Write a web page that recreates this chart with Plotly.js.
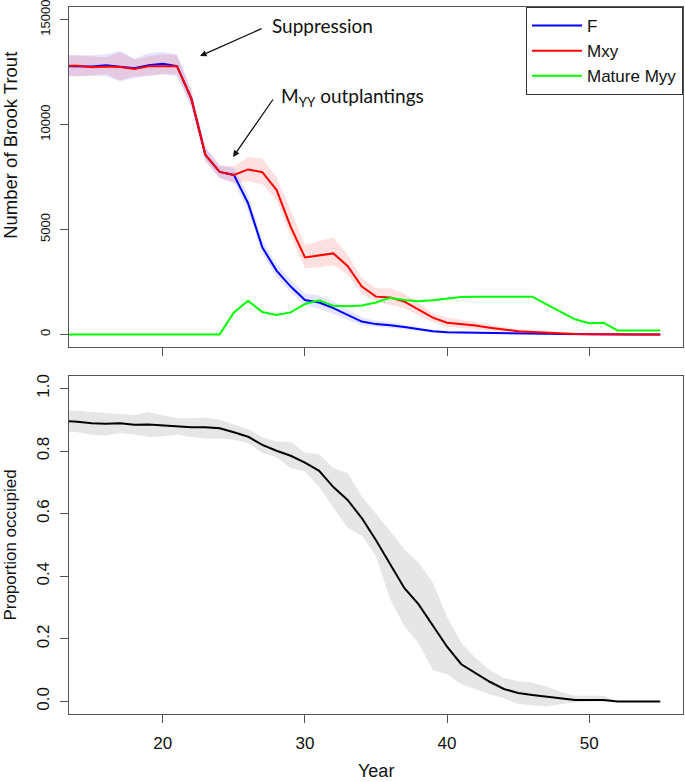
<!DOCTYPE html>
<html>
<head>
<meta charset="utf-8">
<script src="https://cdn.plot.ly/plotly-3.0.1.min.js"></script>
<style>html,body{margin:0;padding:0;background:#fff;}#chart{width:685px;height:782px;}</style>
</head>
<body>
<div id="chart"></div>
<script>
// ---- data (years 13..55) ----
const years = [];
for (let y = 13; y <= 55; y++) years.push(y);

const femaleMean = [12780,12780,12770,12820,12750,12680,12830,12900,12780,11250,8550,7740,7600,6250,4150,3040,2280,1640,1520,1250,930,610,490,440,350,240,150,100,85,75,65,50,45,35,30,20,10,5,0,0,0,0,0];
const femaleUpper = [13300,13300,13300,13350,13500,13150,13400,13450,13350,11650,8900,8050,7950,6650,4500,3350,2600,1950,1850,1550,1200,820,650,580,450,320,220,150,120,100,80,70,60,50,40,30,20,10,5,0,0,0,0];
const femaleLower = [12300,12300,12300,12300,12050,12200,12350,12400,12300,10850,8250,7450,7250,5900,3850,2750,2000,1380,1230,980,700,440,370,320,240,150,80,40,30,25,20,10,5,0,0,0,0,0,0,0,0,0,0];

const mxyMean = [12800,12800,12730,12760,12740,12650,12780,12770,12780,11250,8550,7740,7600,7860,7730,6890,5120,3670,3750,3860,3260,2280,1800,1760,1560,1180,800,560,500,420,320,230,150,115,80,36,15,5,0,0,0,0,0];
const mxyUpper = [13300,13300,13250,13200,13450,13100,13250,13350,13300,11650,8900,8050,8000,8450,8380,7500,5900,4250,4450,4620,3800,2700,2200,2200,1950,1500,1000,800,700,580,450,350,250,220,170,100,50,20,10,0,0,0,0];
const mxyLower = [12300,12300,12350,12400,12100,12300,12300,12400,12400,10900,8250,7450,7200,7300,7150,6400,4700,3150,3200,3300,2850,1950,1550,1400,1250,900,580,370,320,260,200,120,60,30,10,0,0,0,0,0,0,0,0];

const myyMean = [0,0,0,0,0,0,0,0,0,0,0,0,1050,1600,1070,925,1050,1450,1620,1360,1345,1380,1520,1740,1640,1580,1630,1700,1780,1795,1795,1795,1795,1795,1430,1070,720,530,560,190,190,190,190];

const occMean = [0.896,0.894,0.889,0.887,0.889,0.884,0.885,0.882,0.879,0.876,0.876,0.873,0.86,0.846,0.82,0.801,0.785,0.763,0.737,0.685,0.644,0.586,0.515,0.44,0.362,0.31,0.241,0.175,0.119,0.09,0.063,0.04,0.027,0.021,0.016,0.011,0.005,0.005,0.005,0,0,0,0];
const occUpper = [0.93,0.93,0.925,0.922,0.92,0.915,0.925,0.915,0.905,0.905,0.907,0.9,0.885,0.87,0.845,0.83,0.83,0.795,0.79,0.745,0.73,0.655,0.6,0.545,0.485,0.443,0.38,0.27,0.188,0.14,0.1,0.076,0.065,0.06,0.048,0.03,0.018,0.018,0.018,0,0,0,0];
const occLower = [0.865,0.86,0.852,0.85,0.858,0.853,0.845,0.847,0.853,0.845,0.84,0.84,0.836,0.825,0.795,0.78,0.745,0.735,0.686,0.62,0.555,0.53,0.464,0.326,0.24,0.185,0.1,0.087,0.055,0.039,0.023,0.01,-0.008,-0.012,-0.016,-0.008,-0.003,0,0,0,0,0,0];

const topTicks = [0, 5000, 10000, 15000];
const bottomTicks = [0, 0.2, 0.4, 0.6, 0.8, 1.0];
const xTicks = [20, 30, 40, 50];

// ---- helpers ----
function band(x, up, lo, color, xa, ya) {
  return {
    x: x.concat(x.slice().reverse()),
    y: up.concat(lo.slice().reverse()),
    xaxis: xa, yaxis: ya,
    type: 'scatter', mode: 'lines', fill: 'toself',
    fillcolor: color, line: {width: 0}, hoverinfo: 'skip', showlegend: false
  };
}
function line(x, y, color, name, xa, ya, show) {
  return {x: x, y: y, xaxis: xa, yaxis: ya, type: 'scatter', mode: 'lines',
          name: name, line: {color: color, width: 2}, showlegend: show};
}

const traces = [
  band(years, mxyUpper, mxyLower, 'rgba(255,0,0,0.12)', 'x', 'y'),
  band(years, femaleUpper, femaleLower, 'rgba(40,40,255,0.12)', 'x', 'y'),
  line(years, femaleMean, '#0000FF', 'F', 'x', 'y', true),
  line(years, mxyMean, '#FF0000', 'Mxy', 'x', 'y', true),
  line(years, myyMean, '#00FF00', 'Mature Myy', 'x', 'y', true),
  band(years, occUpper, occLower, '#e6e6e6', 'x2', 'y2'),
  line(years, occMean, '#000000', 'Proportion', 'x2', 'y2', false)
];

const axisCommon = {
  showgrid: false, zeroline: false, showline: true, mirror: true,
  linecolor: '#555', linewidth: 1, ticks: 'outside', ticklen: 8,
  tickcolor: '#555', tickwidth: 1, ticklabeloverflow: 'allow'
};
const tf = 'Liberation Sans, Arial, sans-serif';

const layout = {
  width: 685, height: 782,
  margin: {l: 69, r: 2, t: 7, b: 68},
  paper_bgcolor: '#fff', plot_bgcolor: '#fff',
  font: {family: tf, color: '#000'},
  xaxis: Object.assign({}, axisCommon, {domain: [0, 1], anchor: 'y', range: [13.4, 56.6],
    tickvals: xTicks, showticklabels: false}),
  xaxis2: Object.assign({}, axisCommon, {domain: [0, 1], anchor: 'y2', range: [13.4, 56.6],
    tickvals: xTicks, tickfont: {size: 17, family: tf, color: '#111'}, ticklabelstandoff: 6}),
  yaxis: Object.assign({}, axisCommon, {domain: [0.5191, 1], anchor: 'x', range: [-600, 15600],
    tickvals: topTicks, tickformat: 'd', tickangle: -90, tickfont: {size: 13, family: tf, color: '#111'}, ticklabelstandoff: 5}),
  yaxis2: Object.assign({}, axisCommon, {domain: [0, 0.4781], anchor: 'x2', range: [-0.04, 1.04],
    tickvals: bottomTicks, tickformat: '.1f', tickangle: -90, tickfont: {size: 17, family: tf, color: '#111'}, ticklabelstandoff: 4}),
  showlegend: true,
  legend: {x: 1, xanchor: 'right', y: 1, yanchor: 'top', bgcolor: '#fff',
    bordercolor: '#333', borderwidth: 1, font: {size: 17, family: tf, color: '#111'},
    tracegroupgap: 0, itemwidth: 50},
  annotations: [
    {xref: 'paper', yref: 'paper', x: -0.0945, y: 0.805, text: 'Number of Brook Trout',
     textangle: -90, showarrow: false, xanchor: 'center', yanchor: 'middle',
     font: {size: 18.5, family: tf, color: '#111'}},
    {xref: 'paper', yref: 'paper', x: -0.0945, y: 0.2396, text: 'Proportion occupied',
     textangle: -90, showarrow: false, xanchor: 'center', yanchor: 'middle',
     font: {size: 17, family: tf, color: '#111'}},
    {xref: 'paper', yref: 'paper', x: 0.5, y: -0.0806, text: 'Year',
     showarrow: false, xanchor: 'center', yanchor: 'middle',
     font: {size: 18, family: tf, color: '#111'}},
    {xref: 'x', yref: 'y', x: 27.54, y: 14695, text: 'Suppression', showarrow: false,
     xanchor: 'left', yanchor: 'middle', font: {size: 19, family: 'Lato, sans-serif', color: '#111'}},
    {xref: 'x', yref: 'y', x: 28.175, y: 11312, text: 'M<sub>YY</sub> outplantings', showarrow: false,
     xanchor: 'left', yanchor: 'middle', font: {size: 19, family: 'Lato, sans-serif', color: '#111'}},
    {xref: 'x', yref: 'y', x: 22.62, y: 13265, text: '', showarrow: true,
     axref: 'pixel', ayref: 'pixel', ax: 63, ay: -28, arrowhead: 2, arrowsize: 1, arrowwidth: 1.3, arrowcolor: '#111'},
    {xref: 'x', yref: 'y', x: 24.94, y: 8453, text: '', showarrow: true,
     axref: 'pixel', ayref: 'pixel', ax: 41, ay: -59, arrowhead: 2, arrowsize: 1, arrowwidth: 1.3, arrowcolor: '#111'}
  ]
};

Plotly.newPlot('chart', traces, layout, {displayModeBar: false, staticPlot: true});
</script>
</body>
</html>
